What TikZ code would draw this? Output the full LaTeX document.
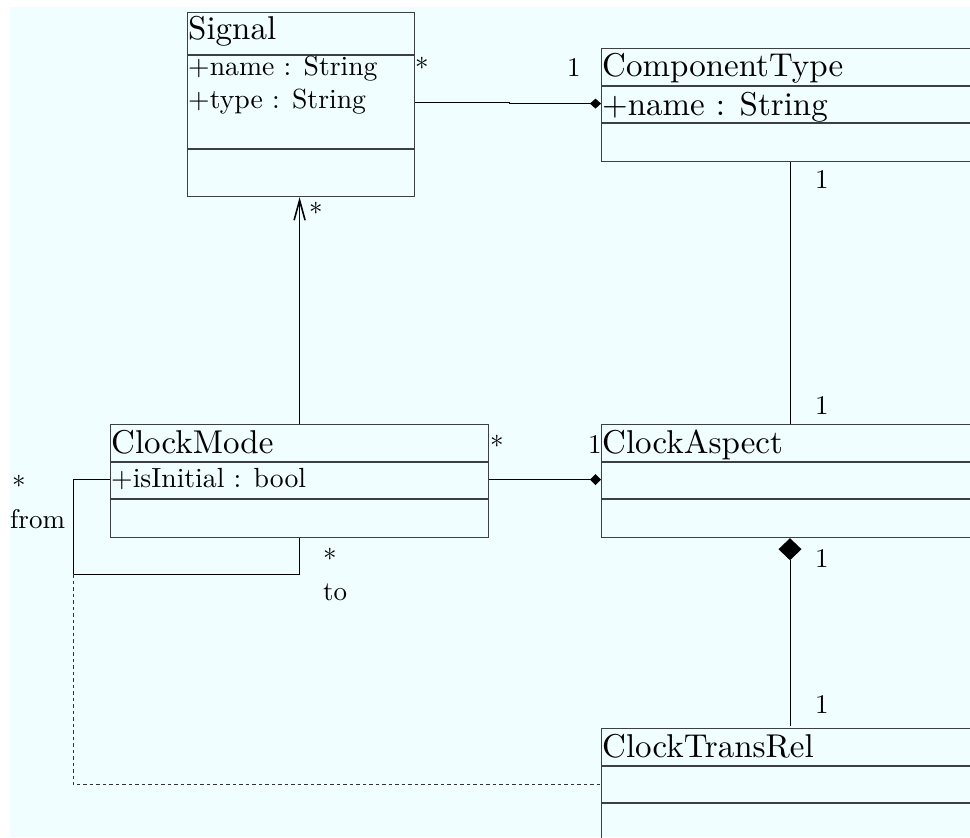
\documentclass[tikz,border=0pt]{standalone}
\usepackage{fontspec}
\setmainfont{lmroman10-regular.otf}
\usetikzlibrary{arrows.meta}
\definecolor{paper}{RGB}{240,254,255}
\definecolor{edge}{RGB}{60,64,64}
\tikzset{
  classbox/.style={draw=edge, line width=1.2pt, rectangle, anchor=north west, inner sep=0pt},
  sepline/.style={draw=edge, line width=1.2pt},
  conn/.style={draw=black, line width=1pt},
  dashconn/.style={draw=black!80, line width=1pt, dash pattern=on 3.5pt off 3pt},
  bigtxt/.style={anchor=base west, inner sep=0pt, font=\fontsize{33}{36}\selectfont},
  smalltxt/.style={anchor=base west, inner sep=0pt, font=\fontsize{27.7}{30}\selectfont},
  mult/.style={anchor=base west, inner sep=0pt, font=\fontsize{27}{30}\selectfont},
}
\begin{document}
\begin{tikzpicture}[x=1pt, y=-1pt]
  \useasboundingbox (0,0) rectangle (970,838);
  \clip (0,0) rectangle (970,838);
  \fill[paper] (10,7) rectangle (970,837);

  % class boxes
  \node[classbox, minimum width=227pt, minimum height=184pt] (signal) at (187,12) {};
  \node[classbox, minimum width=389pt, minimum height=113pt] (ct) at (601,48) {};
  \node[classbox, minimum width=378pt, minimum height=113pt] (cm) at (110,424) {};
  \node[classbox, minimum width=389pt, minimum height=113pt] (ca) at (601,424) {};
  \node[classbox, minimum width=389pt, minimum height=112pt] (ctr) at (601,728) {};

  % compartment separators
  \foreach \b/\d in {signal/43, signal/137, ct/38, ct/75, cm/38, cm/75, ca/38, ca/75, ctr/38, ctr/75}
    \draw[sepline] ([yshift=-\d pt]\b.north west) -- ([yshift=-\d pt]\b.north east);

  % class names and attributes
  \node[bigtxt] (signalname) at (188,39) {Signal};
  \node[smalltxt] (signalattra) at (188,75) {+name : String};
  \node[smalltxt] (signalattrb) at (188,108) {+type : String};
  \node[bigtxt] (ctname) at (602,76) {ComponentType};
  \node[bigtxt] (ctattr) at (602,115) {+name : String};
  \node[bigtxt] (cmname) at (111,453) {ClockMode};
  \node[smalltxt] (cmattr) at (111,487) {+isInitial : bool};
  \node[bigtxt] (caname) at (602,453) {ClockAspect};
  \node[bigtxt] (ctrname) at (602,757) {ClockTransRel};

  % associations
  \draw[conn, -{Diamond[length=11pt, width=10pt]}]
    ([yshift=2pt]signal.east) -- ++(94,0) -- ++(0,1) -- ([yshift=1.5pt]ct.west);
  \draw[conn, -{Diamond[length=11pt, width=11pt]}]
    ([yshift=1.5pt]cm.east) -- ([yshift=1.5pt]ca.west);
  \draw[conn, -{Straight Barb[length=20pt, width=11pt, line width=1.6pt]}]
    (cm.north) -- (cm.north |- signal.south);
  \draw[conn] ([xshift=189pt]ct.south west) -- ([xshift=189pt]ca.north west);
  \draw[conn, {Diamond[length=22pt, width=23pt]}-]
    ([xshift=189pt]ca.south west) -- ([xshift=189pt, yshift=2pt]ctr.north west);

  % self association and its dashed link
  \coordinate (loopcorner) at (73,574);
  \draw[conn] ([yshift=1.5pt]cm.west) -| (loopcorner) -| (cm.south);
  \draw[dashconn] (loopcorner) |- (ctr.west);

  % multiplicities and role names
  \node[mult] (m1) at (415,77) {*};
  \node[mult] (m2) at (567,76) {1};
  \node[mult] (m3) at (309,222) {*};
  \node[mult] (m4) at (815,188) {1};
  \node[mult] (m5) at (815,414) {1};
  \node[mult] (m6) at (490,455) {*};
  \node[mult] (m7) at (588,453) {1};
  \node[mult] (m8) at (12,495) {*};
  \node[mult] (m9) at (10,528) {from};
  \node[mult] (m10) at (323,568) {*};
  \node[mult] (m11) at (323,600) {to};
  \node[mult] (m12) at (815,567) {1};
  \node[mult] (m13) at (815,713) {1};
\end{tikzpicture}
\end{document}
